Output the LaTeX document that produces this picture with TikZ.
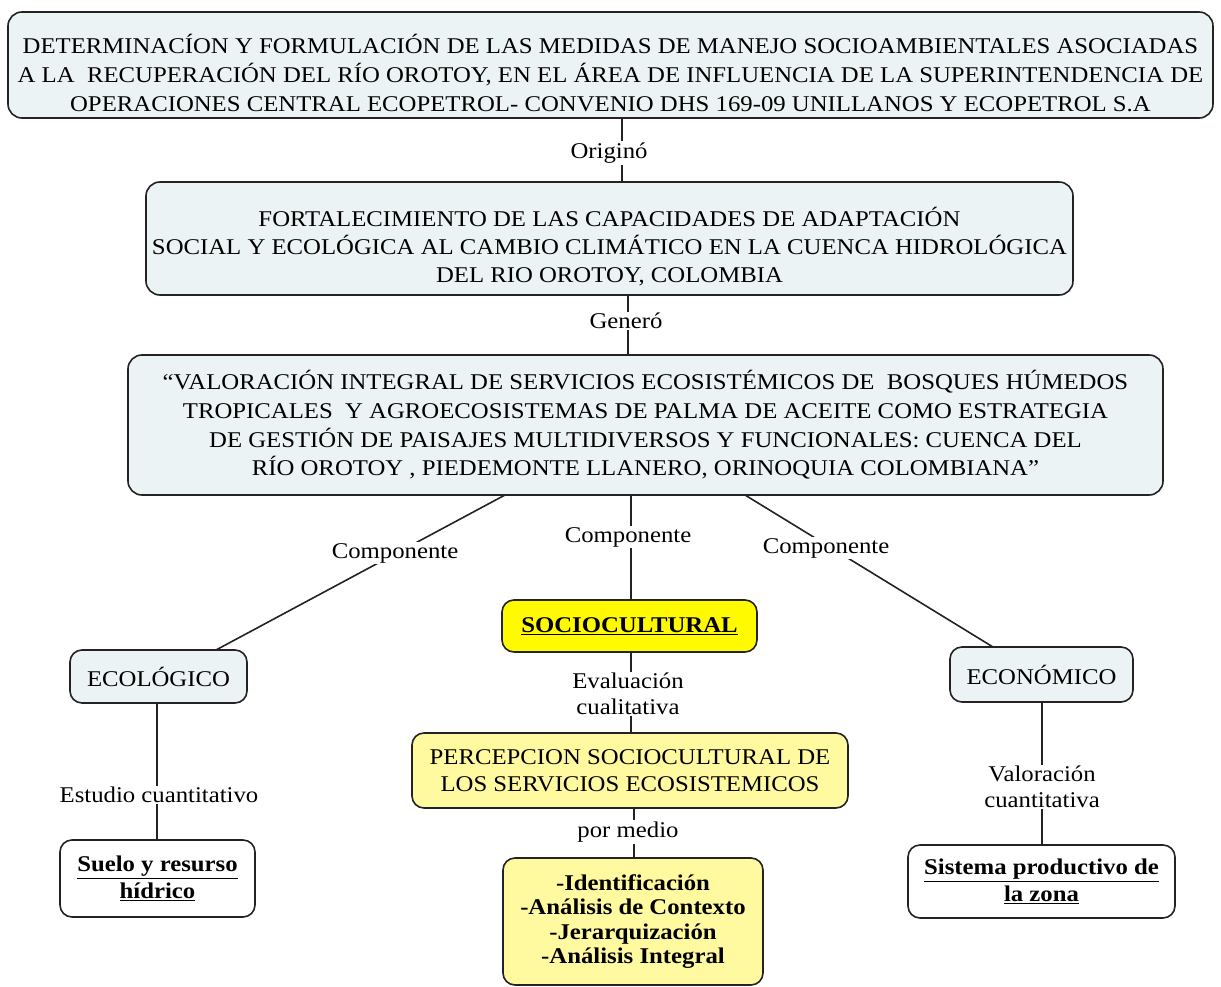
\documentclass[tikz,border=0pt]{standalone}
\usepackage{fontspec}
\setmainfont{Liberation Serif}[FakeStretch=1.1]
\usetikzlibrary{backgrounds}
\definecolor{boxblue}{RGB}{236,243,245}
\definecolor{hiyellow}{RGB}{255,250,0}
\definecolor{softyellow}{RGB}{255,249,160}
\definecolor{edgegray}{RGB}{35,35,35}

\begin{document}
\begin{tikzpicture}[x=1pt,y=-1pt,
  font=\fontsize{22.5}{27}\selectfont,
  box/.style={draw=edgegray, line width=1.6pt, rounded corners=14pt, align=center, inner sep=0pt},
  bluebox/.style={box, fill=boxblue},
  brightbox/.style={box, fill=hiyellow, rounded corners=12pt},
  softbox/.style={box, fill=softyellow, rounded corners=12pt},
  plainbox/.style={box, fill=white, rounded corners=12pt},
  lab/.style={fill=white, inner sep=1.5pt, align=center},
  link/.style={draw=edgegray, line width=1.6pt}]

\useasboundingbox (0,0) rectangle (1221,987);

% main chain of project boxes (the strut on the first line sets the text a little low)
\node[bluebox, minimum width=1205pt, minimum height=106pt, font=\fontsize{22.5}{29.25}\selectfont] (top) at (610.5,65)
  {\rule{0pt}{35pt}DETERMINACÍON Y FORMULACIÓN DE LAS MEDIDAS DE MANEJO SOCIOAMBIENTALES ASOCIADAS\\
   A LA\ \ RECUPERACIÓN DEL RÍO OROTOY, EN EL ÁREA DE INFLUENCIA DE LA SUPERINTENDENCIA DE\\
   OPERACIONES CENTRAL ECOPETROL- CONVENIO DHS 169-09 UNILLANOS Y ECOPETROL S.A};

\node[bluebox, minimum width=927pt, minimum height=113pt, font=\fontsize{22.5}{28}\selectfont] (box2) at (609.5,238.5)
  {\rule{0pt}{35pt}FORTALECIMIENTO DE LAS CAPACIDADES DE ADAPTACIÓN\\
   SOCIAL Y ECOLÓGICA AL CAMBIO CLIMÁTICO EN LA CUENCA HIDROLÓGICA\\
   DEL RIO OROTOY, COLOMBIA};

\node[bluebox, minimum width=1035pt, minimum height=140pt, font=\fontsize{22.5}{28.7}\selectfont] (box3) at (645.5,425)
  {“VALORACIÓN INTEGRAL DE SERVICIOS ECOSISTÉMICOS DE\ \ BOSQUES HÚMEDOS\\
   TROPICALES\ \ Y AGROECOSISTEMAS DE PALMA DE ACEITE COMO ESTRATEGIA\\
   DE GESTIÓN DE PAISAJES MULTIDIVERSOS Y FUNCIONALES: CUENCA DEL\\
   RÍO OROTOY , PIEDEMONTE LLANERO, ORINOQUIA COLOMBIANA”};

% components
\node[bluebox, rounded corners=12pt, minimum width=177pt, minimum height=53pt] (eco) at (158.5,676.5) {ECOLÓGICO};
\node[brightbox, minimum width=255pt, minimum height=52pt] (soc) at (629.5,626) {\underline{\textbf{SOCIOCULTURAL}}};
\node[bluebox, rounded corners=12pt, minimum width=183pt, minimum height=55pt] (econ) at (1041.5,674.5) {ECONÓMICO};

\node[softbox, minimum width=436pt, minimum height=75pt] (perc) at (630,770.5)
  {PERCEPCION SOCIOCULTURAL DE\\LOS SERVICIOS ECOSISTEMICOS};
\node[softbox, minimum width=260pt, minimum height=127pt, font=\fontsize{22.5}{24.5}\selectfont\bfseries] (steps) at (633,921.5)
  {-Identificación\\-Análisis de Contexto\\-Jerarquización\\-Análisis Integral};

\node[plainbox, minimum width=195pt, minimum height=77pt, font=\fontsize{22.5}{27}\selectfont\bfseries] (suelo) at (157.5,878.5)
  {\underline{Suelo y resurso}\\\underline{hídrico}};
\node[plainbox, minimum width=267pt, minimum height=73pt, font=\fontsize{22.5}{27}\selectfont\bfseries] (sist) at (1041.5,881.5)
  {\underline{Sistema productivo de}\\\underline{la zona}};

% link labels
\node[lab] (orig) at (609,153) {Originó};
\node[lab] (gen) at (626,321) {Generó};
\node[lab] (compL) at (395,553) {Componente};
\node[lab] (compC) at (628,537) {Componente};
\node[lab] (compR) at (826,548) {Componente};
\node[lab, font=\fontsize{22.5}{26}\selectfont] (evalq) at (628,694) {Evaluación\\cualitativa};
\node[lab] (medio) at (628,832) {por medio};
\node[lab] (estud) at (159,795) {Estudio cuantitativo};
\node[lab, font=\fontsize{22.5}{26}\selectfont] (valq) at (1042,787) {Valoración\\cuantitativa};

% attachment points of the connectors
\coordinate (v1) at (622,0);
\coordinate (v2) at (628,0);
\coordinate (v3) at (631,0);
\coordinate (v4) at (634,0);
\coordinate (v5) at (157,0);
\coordinate (v6) at (1042,0);
\coordinate (dl1) at (505,495);
\coordinate (dl2) at (216,650);
\coordinate (dr1) at (745,495);
\coordinate (dr2) at (993,647);

\begin{scope}[on background layer]
  \draw[link] (v1 |- top.south) -- (v1 |- box2.north);
  \draw[link] (v2 |- box2.south) -- (v2 |- box3.north);
  \draw[link] (dl1) -- (dl2);
  \draw[link] (v3 |- box3.south) -- (v3 |- soc.north);
  \draw[link] (dr1) -- (dr2);
  \draw[link] (v3 |- soc.south) -- (v3 |- perc.north);
  \draw[link] (v4 |- perc.south) -- (v4 |- steps.north);
  \draw[link] (v5 |- eco.south) -- (v5 |- suelo.north);
  \draw[link] (v6 |- econ.south) -- (v6 |- sist.north);
\end{scope}
\end{tikzpicture}
\end{document}
